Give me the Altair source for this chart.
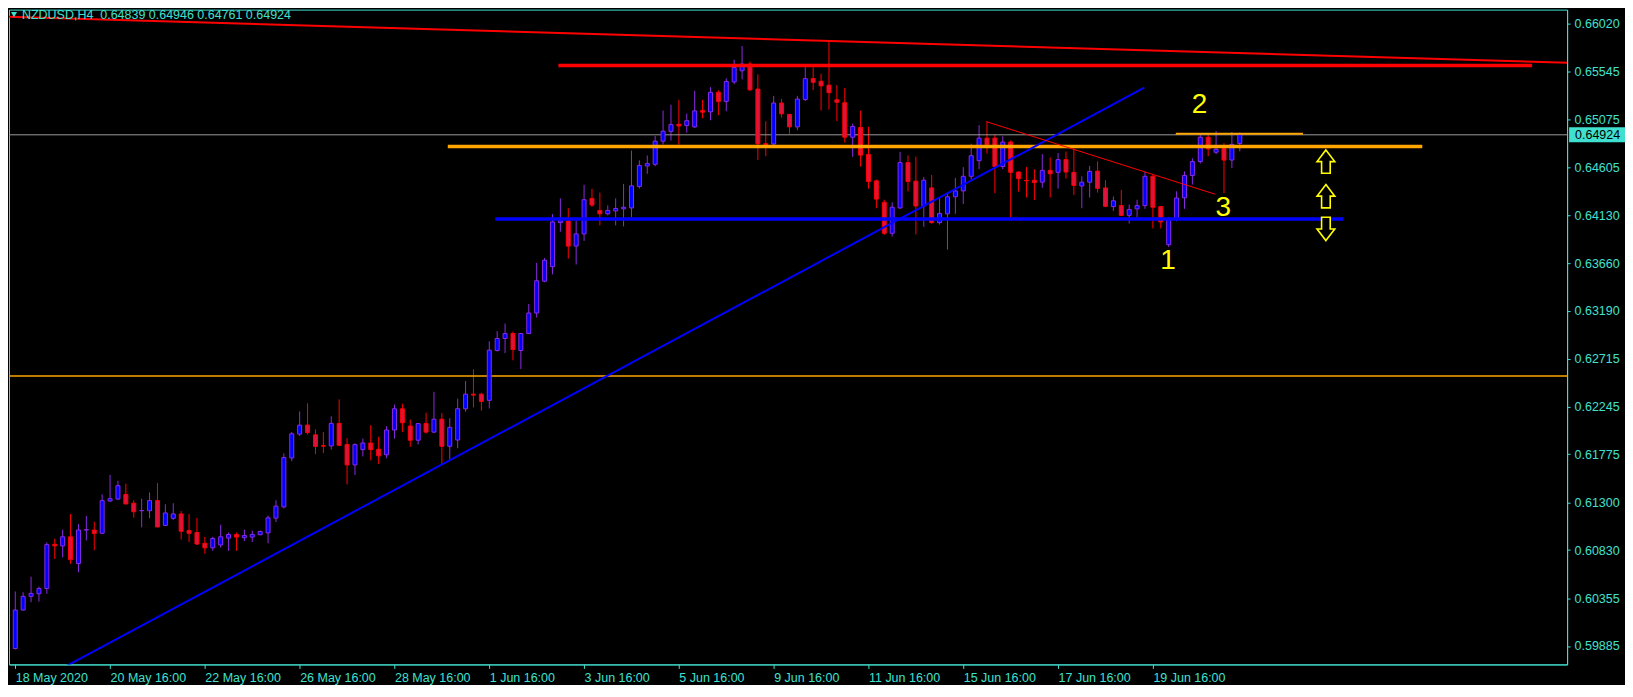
import altair as alt
import pandas as pd

W = 1561
H = 656
CYAN = "#40e0d0"
FONT = "Liberation Sans"
BULL_FILL = "#0000ff"
BULL_LINE = "#8a2be2"
BEAR_FILL = "#dc143c"
BEAR_LINE = "#ff0000"

# ---------------- candle data (NZDUSD H4) ----------------
opens = [0.59860, 0.60239, 0.60374, 0.60399, 0.60451, 0.60887, 0.60871, 0.60961, 0.60698, 0.61028,
         0.61028, 0.60996, 0.61314, 0.61333, 0.61379, 0.61292, 0.61218, 0.61218, 0.61318, 0.61073,
         0.61143, 0.61186, 0.61022, 0.61003, 0.60897, 0.60852, 0.60880, 0.60948, 0.60984, 0.60952,
         0.60958, 0.60981, 0.60999, 0.61145, 0.61256, 0.61738, 0.61973, 0.62062, 0.61966, 0.61860,
         0.61857, 0.62079, 0.61870, 0.61670, 0.61821, 0.61886, 0.61824, 0.61769, 0.62014, 0.62223,
         0.62053, 0.61913, 0.62079, 0.61993, 0.62120, 0.61853, 0.61915, 0.62223, 0.62367, 0.62367,
         0.62306, 0.62797, 0.62916, 0.62965, 0.62797, 0.62965, 0.63167, 0.63481, 0.63624, 0.64058,
         0.64075, 0.63827, 0.63947, 0.64297, 0.64178, 0.64145, 0.64174, 0.64194, 0.64203, 0.64415,
         0.64617, 0.64633, 0.64861, 0.64957, 0.65028, 0.65015, 0.65002, 0.65163, 0.65150, 0.65343,
         0.65253, 0.65445, 0.65555, 0.65621, 0.65375, 0.64836, 0.64833, 0.65237, 0.65125, 0.65002,
         0.65272, 0.65478, 0.65452, 0.65413, 0.65269, 0.65240, 0.64900, 0.64996, 0.64730, 0.64470,
         0.64258, 0.63953, 0.64203, 0.64650, 0.64467, 0.64222, 0.64400, 0.64058, 0.64145, 0.64313,
         0.64371, 0.64515, 0.64669, 0.64891, 0.64891, 0.64611, 0.64852, 0.64557, 0.64474, 0.64476,
         0.64457, 0.64573, 0.64554, 0.64679, 0.64554, 0.64419, 0.64457, 0.64566, 0.64400, 0.64216,
         0.64226, 0.64130, 0.64194, 0.64226, 0.64515, 0.64216, 0.63841, 0.64091, 0.64303, 0.64523,
         0.64660, 0.64900, 0.64752, 0.64788, 0.64675, 0.64839]
highs = [0.60422, 0.60414, 0.60568, 0.60470, 0.60907, 0.60942, 0.61031, 0.61186, 0.61087, 0.61167,
         0.61109, 0.61379, 0.61571, 0.61513, 0.61484, 0.61321, 0.61337, 0.61398, 0.61491, 0.61282,
         0.61292, 0.61215, 0.61186, 0.61148, 0.60961, 0.60961, 0.61080, 0.61003, 0.61003, 0.61031,
         0.61022, 0.61022, 0.61170, 0.61321, 0.61783, 0.61995, 0.62197, 0.62277, 0.62020, 0.61995,
         0.62149, 0.62316, 0.61934, 0.61882, 0.61929, 0.62062, 0.61947, 0.62052, 0.62265, 0.62274,
         0.62117, 0.62079, 0.62184, 0.62390, 0.62180, 0.62130, 0.62322, 0.62496, 0.62612, 0.62380,
         0.62888, 0.62987, 0.63064, 0.62984, 0.62968, 0.63256, 0.63661, 0.63709, 0.64142, 0.64297,
         0.64200, 0.64075, 0.64431, 0.64392, 0.64354, 0.64229, 0.64297, 0.64440, 0.64768, 0.64672,
         0.64720, 0.64912, 0.65163, 0.65221, 0.65269, 0.65134, 0.65356, 0.65269, 0.65394, 0.65363,
         0.65481, 0.65664, 0.65799, 0.65645, 0.65520, 0.65057, 0.65308, 0.65279, 0.65130, 0.65308,
         0.65590, 0.65590, 0.65526, 0.65847, 0.65414, 0.65385, 0.65035, 0.65163, 0.65002, 0.64483,
         0.64284, 0.64258, 0.64756, 0.64720, 0.64708, 0.64508, 0.64528, 0.64303, 0.64354, 0.64499,
         0.64605, 0.64836, 0.65019, 0.65054, 0.64925, 0.64910, 0.64868, 0.64563, 0.64605, 0.64585,
         0.64733, 0.64701, 0.64746, 0.64759, 0.64788, 0.64515, 0.64617, 0.64662, 0.64476, 0.64316,
         0.64380, 0.64236, 0.64284, 0.64563, 0.64531, 0.64220, 0.64113, 0.64367, 0.64563, 0.64692,
         0.64922, 0.64929, 0.64961, 0.64842, 0.64951, 0.64946]
lows = [0.59850, 0.60235, 0.60316, 0.60322, 0.60399, 0.60742, 0.60758, 0.60695, 0.60611, 0.60925,
        0.60829, 0.60990, 0.61304, 0.61324, 0.61280, 0.61150, 0.61054, 0.61145, 0.61054, 0.61067,
        0.61128, 0.60935, 0.60910, 0.60880, 0.60794, 0.60823, 0.60855, 0.60823, 0.60823, 0.60919,
        0.60910, 0.60977, 0.60897, 0.61106, 0.61241, 0.61706, 0.61954, 0.61969, 0.61776, 0.61786,
        0.61821, 0.61857, 0.61478, 0.61571, 0.61753, 0.61714, 0.61678, 0.61736, 0.61929, 0.61993,
        0.61849, 0.61872, 0.61978, 0.61984, 0.61674, 0.61726, 0.61834, 0.62194, 0.62236, 0.62204,
        0.62226, 0.62788, 0.62772, 0.62701, 0.62614, 0.62961, 0.63122, 0.63471, 0.63548, 0.63969,
        0.63703, 0.63645, 0.63878, 0.64213, 0.64031, 0.64130, 0.64031, 0.64021, 0.64113, 0.64395,
        0.64540, 0.64614, 0.64829, 0.64867, 0.64826, 0.64945, 0.64990, 0.65086, 0.65067, 0.65118,
        0.65157, 0.65423, 0.65471, 0.65356, 0.64675, 0.64713, 0.64797, 0.65093, 0.64935, 0.64971,
        0.65257, 0.65365, 0.65163, 0.65173, 0.65060, 0.64848, 0.64707, 0.64611, 0.64393, 0.64200,
        0.63937, 0.63921, 0.64194, 0.64367, 0.63943, 0.64017, 0.64049, 0.64039, 0.63792, 0.64145,
        0.64242, 0.64483, 0.64585, 0.64739, 0.64348, 0.64585, 0.64113, 0.64364, 0.64306, 0.64280,
        0.64402, 0.64306, 0.64393, 0.64492, 0.64332, 0.64200, 0.64306, 0.64354, 0.64210, 0.64174,
        0.64123, 0.64049, 0.64113, 0.64194, 0.64001, 0.64001, 0.63818, 0.64072, 0.64194, 0.64434,
        0.64640, 0.64713, 0.64733, 0.64348, 0.64595, 0.64761]
closes = [0.60239, 0.60374, 0.60403, 0.60451, 0.60884, 0.60871, 0.60961, 0.60736, 0.61028, 0.61031,
          0.60993, 0.61318, 0.61337, 0.61465, 0.61285, 0.61208, 0.61220, 0.61318, 0.61058, 0.61196,
          0.61186, 0.61016, 0.60996, 0.60890, 0.60852, 0.60945, 0.60961, 0.60984, 0.60958, 0.60974,
          0.60984, 0.61013, 0.61148, 0.61263, 0.61742, 0.61976, 0.62062, 0.61988, 0.61853, 0.61855,
          0.62079, 0.61863, 0.61670, 0.61870, 0.61886, 0.61821, 0.61759, 0.62014, 0.62223, 0.62085,
          0.61913, 0.62077, 0.61993, 0.62120, 0.61853, 0.62040, 0.62223, 0.62367, 0.62358, 0.62296,
          0.62801, 0.62916, 0.62965, 0.62807, 0.62965, 0.63167, 0.63485, 0.63687, 0.64065, 0.64075,
          0.63827, 0.63947, 0.64284, 0.64232, 0.64145, 0.64178, 0.64197, 0.64210, 0.64421, 0.64621,
          0.64640, 0.64861, 0.64960, 0.65025, 0.65011, 0.65063, 0.65160, 0.65147, 0.65343, 0.65253,
          0.65449, 0.65587, 0.65621, 0.65368, 0.64836, 0.64829, 0.65237, 0.65131, 0.65002, 0.65276,
          0.65478, 0.65442, 0.65407, 0.65339, 0.65245, 0.64900, 0.65006, 0.64723, 0.64463, 0.64290,
          0.63953, 0.64210, 0.64650, 0.64463, 0.64222, 0.64476, 0.64058, 0.64149, 0.64313, 0.64371,
          0.64515, 0.64718, 0.64891, 0.64826, 0.64611, 0.64852, 0.64554, 0.64492, 0.64470, 0.64453,
          0.64573, 0.64540, 0.64679, 0.64557, 0.64425, 0.64457, 0.64563, 0.64396, 0.64219, 0.64274,
          0.64130, 0.64187, 0.64226, 0.64515, 0.64210, 0.64065, 0.64091, 0.64301, 0.64523, 0.64660,
          0.64900, 0.64785, 0.64781, 0.64675, 0.64829, 0.64924]

# ---------------- axes ----------------
x_tick_values = [0, 12, 24, 36, 48, 60, 72, 84, 96, 108, 120, 132, 144]
x_tick_labels = ["18 May 2020", "20 May 16:00", "22 May 16:00", "26 May 16:00", "28 May 16:00",
                 "1 Jun 16:00", "3 Jun 16:00", "5 Jun 16:00", "9 Jun 16:00", "11 Jun 16:00",
                 "15 Jun 16:00", "17 Jun 16:00", "19 Jun 16:00"]
y_tick_values = [0.59885, 0.60355, 0.60830, 0.61300, 0.61775, 0.62245, 0.62715,
                 0.63190, 0.63660, 0.64130, 0.64605, 0.65075, 0.65545, 0.66020]

# ---------------- drawn objects ----------------
level_start = [68.75, 54.75, 60.75, 146.9]
level_end = [192.0, 178.1, 168.1, 163.0]
level_price = [0.65606, 0.64809, 0.64094, 0.64934]
level_color = ["#ff0000", "#ffa500", "#0000ff", "#ffa500"]
level_width = [3.5, 3.5, 3.5, 2]

trend_x1 = [-5, 0, 122.9]
trend_p1 = [0.66097, 0.59417, 0.65054]
trend_x2 = [200, 142.9, 151.9]
trend_p2 = [0.65627, 0.65388, 0.64338]
trend_color = ["#ff0000", "#0000ff", "#ff0000"]
trend_width = [2, 2, 1]

full_line_price = [0.62547]
current_price = [0.64924]
current_label = ["0.64924"]

note_text = ["1", "2", "3"]
note_idx = [145.9, 149.9, 152.9]
note_price = [0.63680, 0.65216, 0.64200]

arrow_idx = [165.9, 165.9, 165.9]
arrow_price = [0.64660, 0.64319, 0.63996]
arrow_dir = ["up", "up", "down"]

header = "NZDUSD,H4\u00a0\u00a00.64839 0.64946 0.64761 0.64924"

# ---------------- frames ----------------
candles = pd.DataFrame({"idx": list(range(len(opens))), "open": opens, "high": highs,
                        "low": lows, "close": closes})
candles["dir"] = ["up" if c >= o else "down" for o, c in zip(opens, closes)]
levels = pd.DataFrame({"x1": level_start, "x2": level_end, "price": level_price,
                       "color": level_color, "width": level_width})
trends = pd.DataFrame({"x1": trend_x1, "p1": trend_p1, "x2": trend_x2, "p2": trend_p2,
                       "color": trend_color, "width": trend_width})
notes = pd.DataFrame({"t": note_text, "idx": note_idx, "price": note_price})
arrows = pd.DataFrame({"idx": arrow_idx, "price": arrow_price, "dir": arrow_dir})
cur = pd.DataFrame({"price": current_price, "label": current_label})
full = pd.DataFrame({"price": full_line_price})
head = pd.DataFrame({"t": [header]})

x_scale = alt.Scale(domain=[-0.16, 195.8], nice=False, zero=False)
y_scale = alt.Scale(domain=[0.59703, 0.66158], nice=False, zero=False)

label_expr = "[" + ",".join("'" + s + "'" for s in x_tick_labels) + "][round(datum.value/12)]"
x_axis = alt.Axis(values=x_tick_values, labelExpr=label_expr, title=None, grid=False,
                  labelAlign="left", labelBaseline="top", labelPadding=3, tickSize=4,
                  labelFlush=False, labelOverlap=False)
y_axis = alt.Axis(values=y_tick_values, format=".5f", orient="right", title=None, grid=False,
                  tickSize=3, labelPadding=4, labelOverlap=False, labelFlush=False)


def X(field):
    return alt.X(field, scale=x_scale, axis=x_axis, title=None)


def Y(field):
    return alt.Y(field, scale=y_scale, axis=y_axis, title=None)


dir_dom = ["up", "down"]

wicks = alt.Chart(candles).mark_rule(strokeWidth=1).encode(
    x=X("idx:Q"), y=Y("low:Q"), y2="high:Q",
    color=alt.Color("dir:N", scale=alt.Scale(domain=dir_dom, range=[BULL_LINE, BEAR_LINE]), legend=None),
)

gray_line = alt.Chart(cur).mark_rule(color="#9a9a9a", strokeWidth=1).encode(y=Y("price:Q"))

bodies = alt.Chart(candles).mark_bar(size=4, strokeWidth=1).encode(
    x=X("idx:Q"), y=Y("open:Q"), y2="close:Q",
    fill=alt.Fill("dir:N", scale=alt.Scale(domain=dir_dom, range=[BULL_FILL, BEAR_FILL]), legend=None),
    stroke=alt.Stroke("dir:N", scale=alt.Scale(domain=dir_dom, range=[BULL_LINE, BEAR_LINE]), legend=None),
)

full_line = alt.Chart(full).mark_rule(color="#ffa500", strokeWidth=1.5).encode(y=Y("price:Q"))

level_rules = alt.Chart(levels).mark_rule(clip=True).encode(
    x=X("x1:Q"), x2="x2:Q", y=Y("price:Q"),
    color=alt.Color("color:N", scale=None),
    strokeWidth=alt.StrokeWidth("width:Q", scale=None),
)

trend_rules = alt.Chart(trends).mark_rule(clip=True).encode(
    x=X("x1:Q"), x2="x2:Q", y=Y("p1:Q"), y2="p2:Q",
    color=alt.Color("color:N", scale=None),
    strokeWidth=alt.StrokeWidth("width:Q", scale=None),
)

note_marks = alt.Chart(notes).mark_text(font=FONT, fontSize=28, color="#ffff00",
                                        align="center", baseline="middle").encode(
    x=X("idx:Q"), y=Y("price:Q"), text="t:N",
)

up_path = "M0,-1 L0.76,0 L0.37,0 L0.37,1 L-0.37,1 L-0.37,0 L-0.76,0 Z"
down_path = "M0,1 L0.76,0 L0.37,0 L0.37,-1 L-0.37,-1 L-0.37,0 L-0.76,0 Z"
arrow_marks = alt.Chart(arrows).mark_point(size=547, fill="#000000", fillOpacity=1, filled=False,
                                           stroke="#ffff00", strokeWidth=1.6, opacity=1).encode(
    x=X("idx:Q"), y=Y("price:Q"),
    shape=alt.Shape("dir:N", scale=alt.Scale(domain=["up", "down"], range=[up_path, down_path]), legend=None),
)

box_path = "M-1,-0.27 L1,-0.27 L1,0.27 L-1,0.27 Z"
price_box = alt.Chart(cur).mark_point(shape=box_path, size=3136, filled=True, color=CYAN,
                                      opacity=1, clip=False).encode(
    x=alt.value(W + 30), y=Y("price:Q"),
)
price_text = alt.Chart(cur).mark_text(font=FONT, fontSize=12.5, color="#000000", align="left",
                                      baseline="middle").encode(
    x=alt.value(W + 8), y=Y("price:Q"), text="label:N",
)

head_tri = alt.Chart(head).mark_point(shape="triangle-down", filled=True, color=CYAN, size=36,
                                      opacity=1).encode(x=alt.value(5), y=alt.value(5))
head_text = alt.Chart(head).mark_text(font=FONT, fontSize=12.5, color=CYAN, align="left",
                                      baseline="alphabetic").encode(
    x=alt.value(13), y=alt.value(9), text="t:N")

chart = alt.layer(
    wicks, gray_line, full_line, bodies, level_rules, trend_rules, note_marks, arrow_marks,
    price_box, price_text, head_tri, head_text,
).properties(
    width=W, height=H, background="#000000",
    padding={"left": 0, "top": 0, "right": 0, "bottom": 0},
).configure_view(
    stroke=CYAN, strokeWidth=1,
).configure_axis(
    domainColor=CYAN, tickColor=CYAN, labelColor=CYAN, labelFont=FONT, labelFontSize=12.5,
    domainWidth=1, tickWidth=1,
)

chart.save("out.html", embed_options={"renderer": "svg", "actions": False})
